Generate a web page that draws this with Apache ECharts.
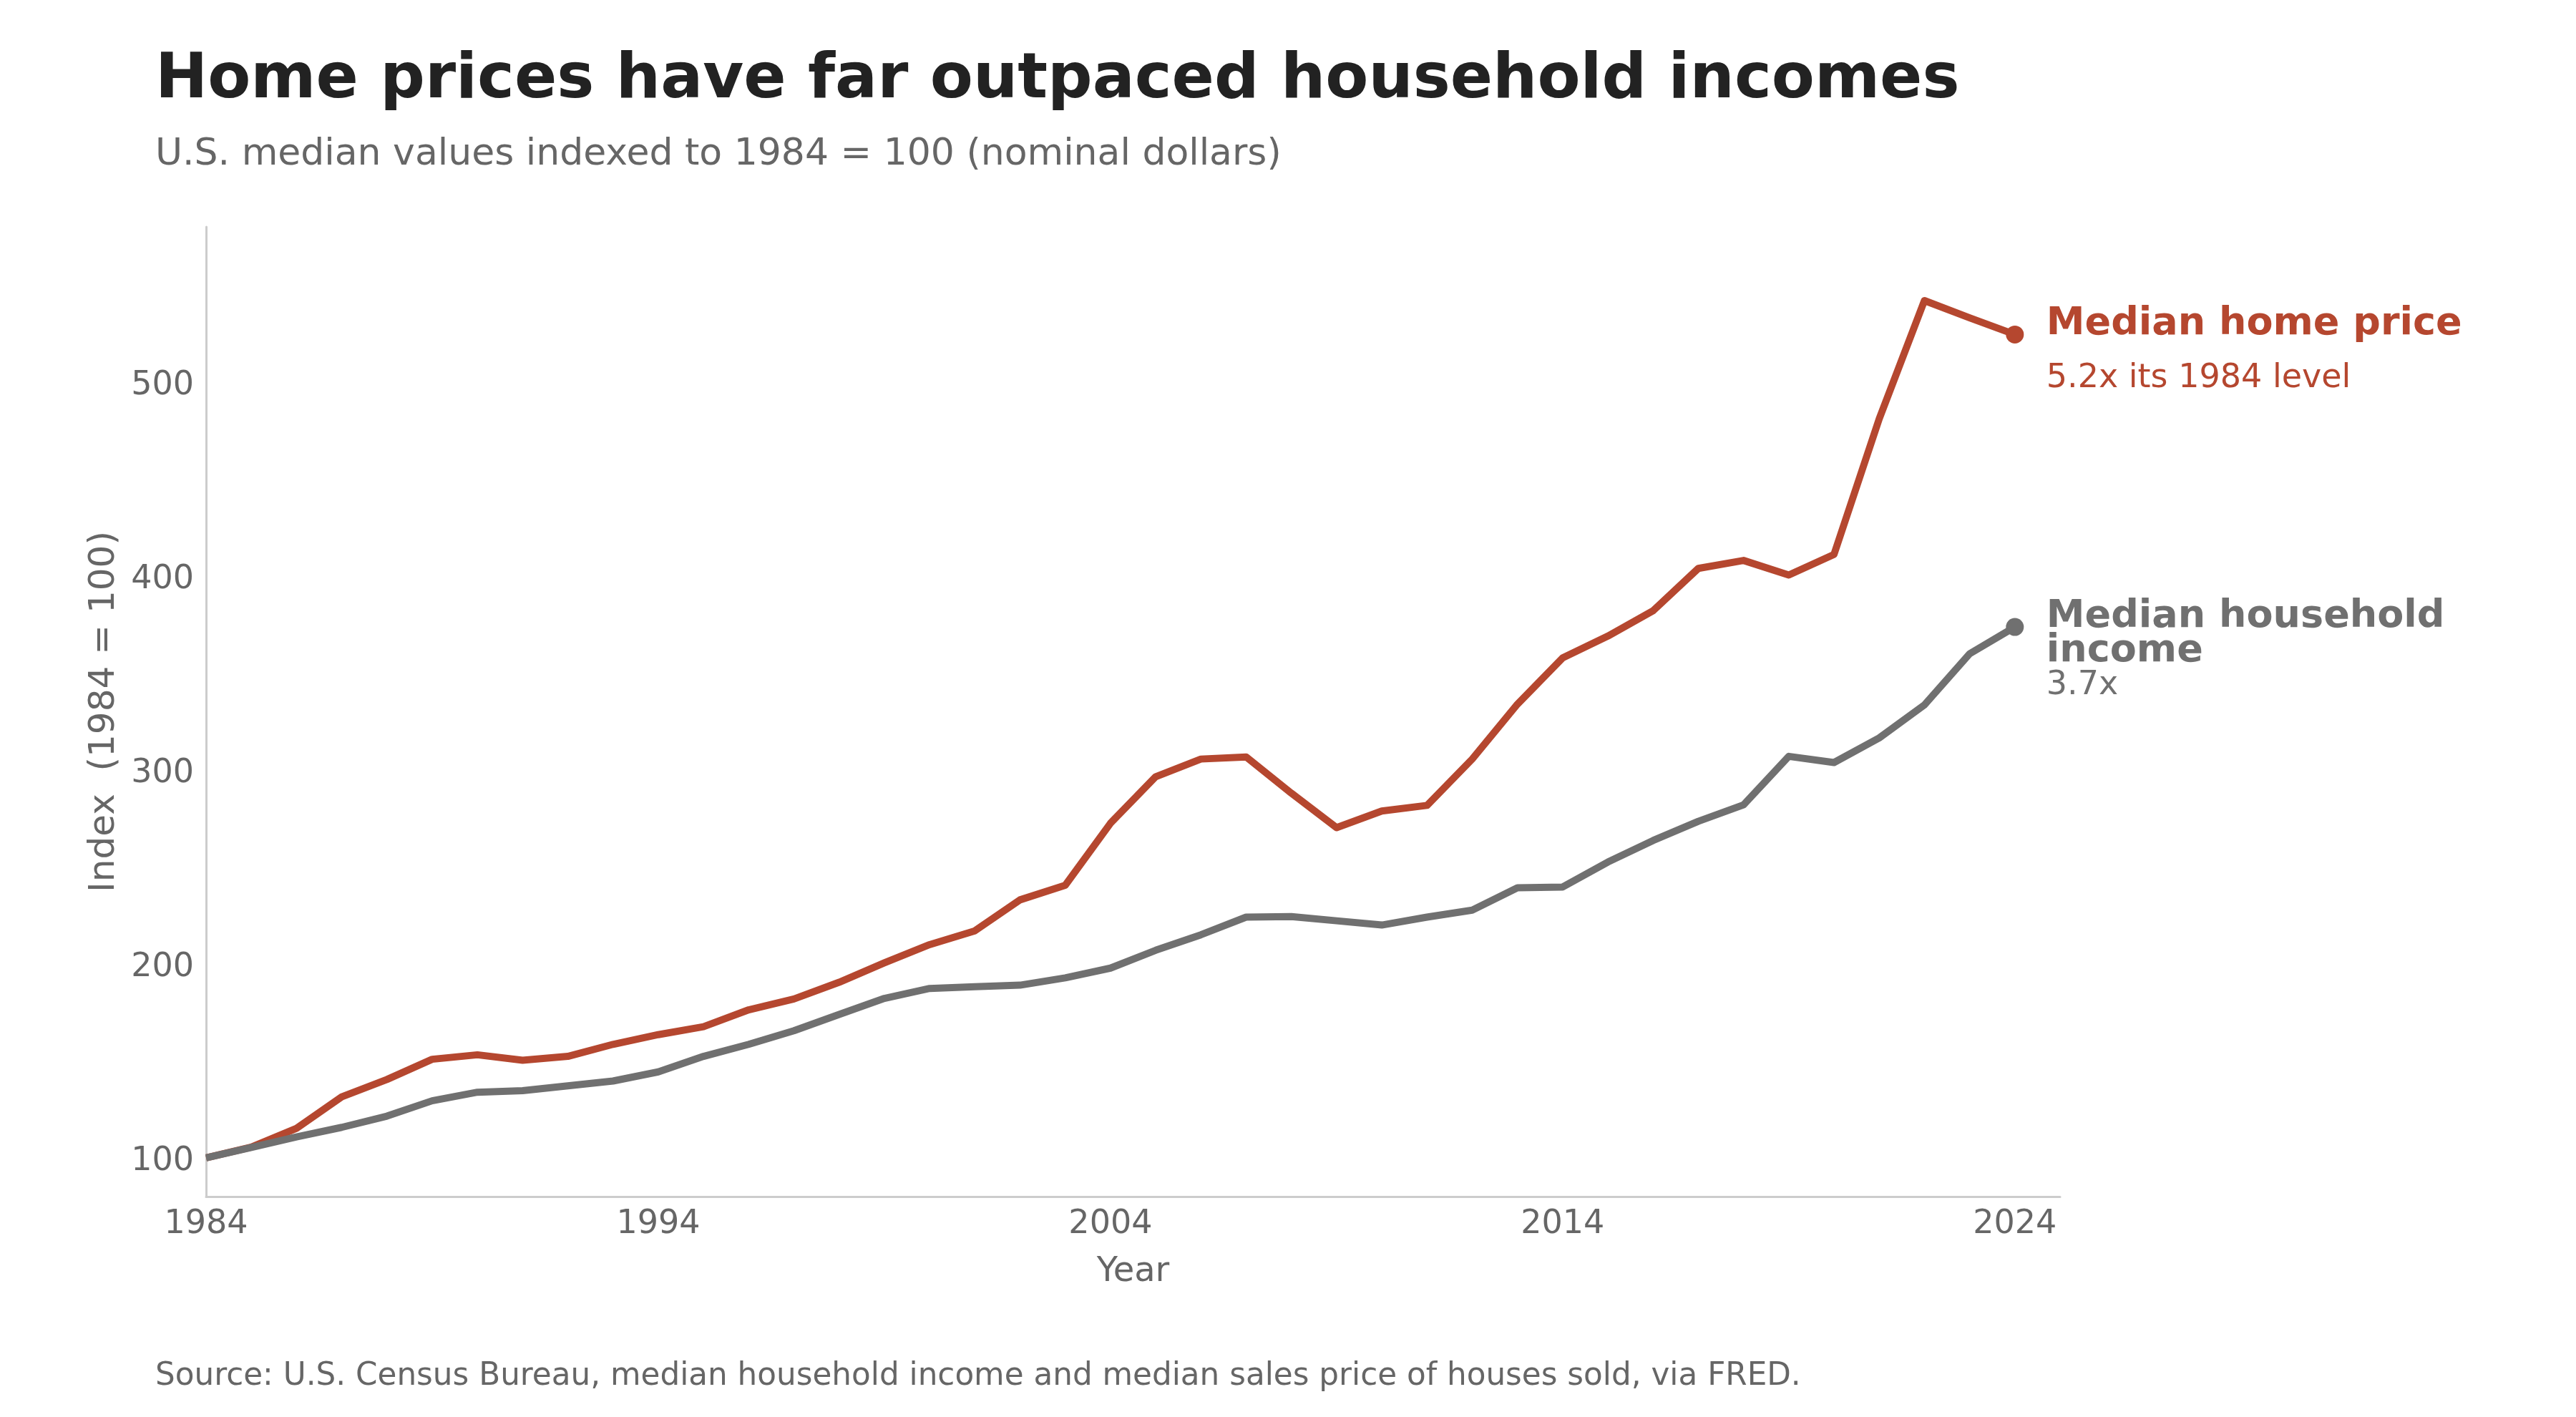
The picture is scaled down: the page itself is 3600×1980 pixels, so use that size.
<!DOCTYPE html>
<html>
<head>
<meta charset="utf-8">
<title>Home prices vs household incomes</title>
<script src="https://cdn.jsdelivr.net/npm/echarts@6/dist/echarts.min.js"></script>
<style>
  html, body { margin: 0; padding: 0; background: #fff; }
  #chart { width: 3600px; height: 1980px; }
</style>
</head>
<body>
<div id="chart"></div>
<script>
// data (index, 1984 = 100)
const years = [1984, 1985, 1986, 1987, 1988, 1989, 1990, 1991, 1992, 1993,
  1994, 1995, 1996, 1997, 1998, 1999, 2000, 2001, 2002, 2003,
  2004, 2005, 2006, 2007, 2008, 2009, 2010, 2011, 2012, 2013,
  2014, 2015, 2016, 2017, 2018, 2019, 2020, 2021, 2022, 2023, 2024];
const homePrice = [100, 105.5, 115.2, 131.4, 140.4, 150.8, 153.1, 150.3, 152.3, 158.5,
  163.5, 167.6, 176.3, 181.9, 190.5, 200.5, 209.9, 217.0, 233.0, 240.5,
  272.5, 296.5, 305.6, 306.7, 288.0, 270.2, 278.8, 281.7, 305.6, 333.9,
  357.8, 369.0, 382.1, 403.9, 408.0, 400.5, 411.1, 481.0, 542.0, 533.1, 524.5];
const householdIncome = [100, 105.3, 110.8, 115.7, 121.5, 129.4, 133.8, 134.6, 137.1, 139.6,
  144.3, 152.3, 158.5, 165.5, 173.9, 182.2, 187.3, 188.2, 189.0, 192.8,
  197.8, 207.0, 215.0, 224.1, 224.4, 222.2, 220.0, 224.1, 227.7, 239.2,
  239.6, 252.5, 263.6, 273.5, 282.0, 307.0, 303.8, 316.5, 333.5, 359.9, 373.7];
const xTicks = [1984, 1994, 2004, 2014, 2024];
const yTicks = [100, 200, 300, 400, 500];

const RED = "#b5472f";
const GRAY = "#707070";
const FONT = "DejaVu Sans";

function toPoints(vals) {
  return vals.map((v, i) => {
    if (i === vals.length - 1) {
      return { value: [years[i], v], symbol: "circle", symbolSize: 25 };
    }
    return [years[i], v];
  });
}

const homeRatio = (homePrice[homePrice.length - 1] / homePrice[0]).toFixed(1);
const incomeRatio = (householdIncome[householdIncome.length - 1] / householdIncome[0]).toFixed(1);

const myChart = echarts.init(document.getElementById("chart"));
const myOption = {
  animation: false,
  backgroundColor: "#fff",
  textStyle: { fontFamily: FONT },
  title: [
    {
      text: "Home prices have far outpaced household incomes",
      left: 212,
      top: 64,
      textStyle: { fontFamily: FONT, fontSize: 87.5, fontWeight: "bold", color: "#222" },
    },
    {
      text: "U.S. median values indexed to 1984 = 100 (nominal dollars)",
      left: 212,
      top: 185,
      textStyle: { fontFamily: FONT, fontSize: 52, fontWeight: "normal", color: "#666" },
    },
    {
      text: "Source: U.S. Census Bureau, median household income and median sales price of houses sold, via FRED.",
      left: 212,
      top: 1897,
      textStyle: { fontFamily: FONT, fontSize: 43.7, fontWeight: "normal", color: "#666" },
    },
  ],
  grid: { left: 288, right: 721, top: 317, bottom: 308 },
  xAxis: {
    type: "value",
    min: 1984,
    max: 2025,
    name: "Year",
    nameLocation: "middle",
    nameGap: 82,
    nameTextStyle: { fontFamily: FONT, fontSize: 48, color: "#666" },
    axisLine: { show: true, lineStyle: { color: "#cccccc", width: 3 } },
    axisTick: { show: false },
    splitLine: { show: false },
    axisLabel: {
      customValues: xTicks,
      fontFamily: FONT,
      fontSize: 46,
      color: "#666",
      margin: 16,
      formatter: (v) => String(v),
    },
  },
  yAxis: {
    type: "value",
    min: 80,
    max: 580,
    name: "Index  (1984 = 100)",
    nameLocation: "middle",
    nameGap: 117,
    nameTextStyle: { fontFamily: FONT, fontSize: 50, color: "#666" },
    axisLine: { show: true, lineStyle: { color: "#cccccc", width: 3 } },
    axisTick: { show: false },
    splitLine: { show: false },
    axisLabel: {
      customValues: yTicks,
      fontFamily: FONT,
      fontSize: 46,
      color: "#666",
      margin: 17,
      formatter: (v) => "{n|" + v + "}",
      rich: {
        n: { fontFamily: FONT, fontSize: 46, color: "#666", padding: [10, 0, 0, 0] },
      },
    },
  },
  series: [
    {
      name: "Median home price",
      type: "line",
      data: toPoints(homePrice),
      symbol: "none",
      showSymbol: true,
      showAllSymbol: true,
      lineStyle: { color: RED, width: 10, join: "round" },
      itemStyle: { color: RED },
      emphasis: { disabled: true },
      silent: true,
      endLabel: {
        show: true,
        distance: 44,
        offset: [0, 24],
        formatter: () => "{t|Median home price}\n{s|" + homeRatio + "x its 1984 level}",
        rich: {
          t: { fontFamily: FONT, fontSize: 54, fontWeight: "bold", color: RED, lineHeight: 76 },
          s: { fontFamily: FONT, fontSize: 46, color: RED, lineHeight: 76 },
        },
      },
    },
    {
      name: "Median household income",
      type: "line",
      data: toPoints(householdIncome),
      symbol: "none",
      showSymbol: true,
      showAllSymbol: true,
      lineStyle: { color: GRAY, width: 10, join: "round" },
      itemStyle: { color: GRAY },
      emphasis: { disabled: true },
      silent: true,
      endLabel: {
        show: true,
        distance: 44,
        offset: [0, 34],
        formatter: () => "{t|Median household}\n{t|income}\n{s|" + incomeRatio + "x}",
        rich: {
          t: { fontFamily: FONT, fontSize: 54, fontWeight: "bold", color: GRAY, lineHeight: 48 },
          s: { fontFamily: FONT, fontSize: 46, color: GRAY, lineHeight: 48 },
        },
      },
    },
  ],
};
myChart.setOption(myOption);
</script>
</body>
</html>
